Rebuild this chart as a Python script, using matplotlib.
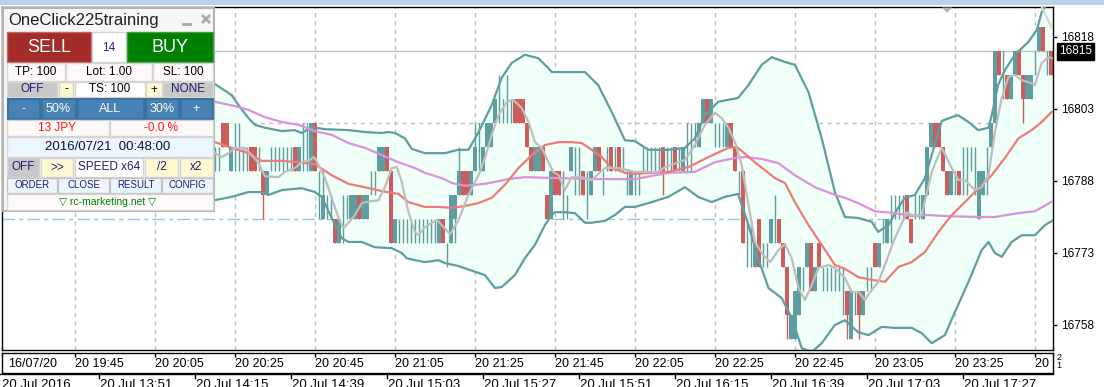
import numpy as np
import matplotlib.pyplot as plt
from matplotlib.patches import Rectangle, Polygon
from matplotlib import transforms

plt.rcParams['font.family'] = ['Liberation Sans', 'DejaVu Sans']

# ---------------- data (1-minute bars, index 0 = 19:27) ----------------
first_bar = 52
opens = [16795, 16795, 16795, 16800, 16800, 16790, 16795, 16795, 16795, 16795,
         16795, 16795, 16790, 16790, 16785, 16790, 16790, 16795, 16790, 16795,
         16790, 16795, 16790, 16795, 16795, 16790, 16800, 16785, 16780, 16785,
         16780, 16780, 16775, 16780, 16780, 16780, 16780, 16785, 16780, 16780,
         16785, 16790, 16790, 16790, 16795, 16790, 16775, 16780, 16775, 16780,
         16775, 16780, 16780, 16775, 16780, 16775, 16780, 16775, 16780, 16775,
         16775, 16780, 16785, 16790, 16790, 16785, 16790, 16795, 16790, 16795,
         16795, 16800, 16805, 16805, 16805, 16805, 16805, 16805, 16805, 16800,
         16795, 16790, 16790, 16795, 16785, 16780, 16790, 16790, 16785, 16785,
         16790, 16790, 16790, 16790, 16785, 16785, 16790, 16795, 16790, 16790,
         16795, 16790, 16795, 16790, 16790, 16785, 16790, 16790, 16790, 16790,
         16790, 16790, 16790, 16795, 16790, 16790, 16795, 16790, 16790, 16795,
         16795, 16795, 16795, 16800, 16805, 16800, 16800, 16800, 16795, 16795,
         16800, 16795, 16790, 16790, 16775, 16775, 16770, 16780, 16775, 16775,
         16775, 16780, 16780, 16775, 16770, 16755, 16755, 16760, 16770, 16770,
         16775, 16765, 16775, 16770, 16765, 16770, 16765, 16770, 16765, 16765,
         16755, 16765, 16765, 16760, 16765, 16770, 16775, 16770, 16775, 16775,
         16780, 16780, 16785, 16780, 16785, 16780, 16780, 16780, 16780, 16785,
         16795, 16800, 16800, 16795, 16790, 16785, 16790, 16790, 16790, 16790,
         16790, 16790, 16780, 16785, 16790, 16795, 16800, 16815, 16810, 16810,
         16805, 16810, 16815, 16810, 16805, 16805, 16810, 16815, 16820, 16815, 16815]
highs = [16795, 16795, 16795, 16800, 16800, 16795, 16800, 16800, 16795, 16795,
         16795, 16795, 16795, 16790, 16790, 16795, 16795, 16795, 16795, 16795,
         16795, 16795, 16795, 16800, 16800, 16800, 16800, 16790, 16790, 16785,
         16785, 16780, 16780, 16785, 16785, 16785, 16785, 16785, 16785, 16785,
         16790, 16790, 16795, 16795, 16795, 16790, 16780, 16780, 16780, 16780,
         16780, 16780, 16780, 16780, 16780, 16780, 16780, 16780, 16780, 16775,
         16785, 16785, 16795, 16790, 16790, 16790, 16800, 16800, 16795, 16800,
         16800, 16805, 16810, 16805, 16810, 16805, 16805, 16805, 16805, 16800,
         16795, 16795, 16795, 16795, 16785, 16790, 16790, 16790, 16790, 16785,
         16795, 16795, 16795, 16790, 16790, 16790, 16795, 16795, 16790, 16795,
         16795, 16795, 16795, 16795, 16790, 16790, 16790, 16790, 16795, 16795,
         16795, 16795, 16795, 16795, 16795, 16795, 16795, 16795, 16795, 16800,
         16800, 16800, 16800, 16805, 16805, 16805, 16800, 16800, 16800, 16800,
         16800, 16795, 16790, 16790, 16780, 16780, 16775, 16780, 16775, 16775,
         16780, 16785, 16780, 16775, 16770, 16760, 16765, 16770, 16770, 16775,
         16775, 16770, 16775, 16770, 16770, 16770, 16770, 16770, 16770, 16765,
         16765, 16765, 16765, 16765, 16770, 16770, 16775, 16775, 16780, 16780,
         16785, 16785, 16785, 16785, 16785, 16780, 16785, 16785, 16785, 16795,
         16800, 16800, 16800, 16795, 16790, 16790, 16790, 16790, 16795, 16795,
         16795, 16795, 16790, 16790, 16795, 16800, 16815, 16815, 16815, 16810,
         16810, 16815, 16815, 16810, 16810, 16810, 16815, 16820, 16820, 16815, 16815]
lows = [16790, 16790, 16790, 16795, 16795, 16790, 16790, 16790, 16790, 16790,
        16790, 16790, 16790, 16780, 16785, 16790, 16790, 16790, 16790, 16790,
        16790, 16790, 16790, 16790, 16790, 16790, 16790, 16780, 16780, 16780,
        16780, 16775, 16775, 16775, 16780, 16780, 16780, 16780, 16780, 16780,
        16785, 16785, 16790, 16790, 16790, 16775, 16775, 16775, 16775, 16775,
        16775, 16775, 16775, 16775, 16775, 16775, 16775, 16775, 16775, 16770,
        16775, 16775, 16785, 16785, 16785, 16785, 16790, 16790, 16790, 16795,
        16795, 16800, 16800, 16800, 16800, 16800, 16800, 16800, 16800, 16795,
        16790, 16790, 16790, 16790, 16780, 16780, 16785, 16785, 16780, 16780,
        16790, 16785, 16785, 16785, 16780, 16785, 16790, 16790, 16785, 16790,
        16790, 16790, 16790, 16790, 16785, 16785, 16785, 16785, 16790, 16790,
        16790, 16790, 16790, 16785, 16790, 16790, 16790, 16790, 16790, 16790,
        16790, 16795, 16795, 16800, 16800, 16800, 16795, 16795, 16795, 16795,
        16795, 16790, 16785, 16775, 16770, 16770, 16770, 16770, 16770, 16770,
        16775, 16775, 16775, 16770, 16755, 16755, 16755, 16760, 16765, 16770,
        16765, 16765, 16770, 16765, 16765, 16765, 16765, 16765, 16760, 16755,
        16755, 16760, 16755, 16760, 16765, 16765, 16770, 16770, 16775, 16775,
        16775, 16780, 16780, 16780, 16780, 16775, 16780, 16780, 16780, 16785,
        16795, 16795, 16795, 16790, 16785, 16785, 16785, 16785, 16785, 16785,
        16790, 16785, 16780, 16785, 16785, 16795, 16800, 16810, 16805, 16805,
        16805, 16810, 16810, 16800, 16805, 16805, 16810, 16815, 16815, 16810, 16810]
closes = [16795, 16795, 16795, 16795, 16795, 16795, 16795, 16795, 16795, 16795,
          16790, 16790, 16790, 16785, 16790, 16790, 16790, 16795, 16790, 16795,
          16790, 16790, 16795, 16795, 16795, 16800, 16790, 16785, 16785, 16785,
          16780, 16775, 16780, 16780, 16780, 16785, 16785, 16780, 16785, 16785,
          16785, 16790, 16795, 16795, 16790, 16775, 16780, 16780, 16775, 16780,
          16775, 16780, 16780, 16775, 16780, 16775, 16780, 16780, 16775, 16775,
          16785, 16785, 16790, 16785, 16785, 16790, 16795, 16795, 16795, 16800,
          16800, 16805, 16805, 16805, 16805, 16805, 16800, 16800, 16800, 16795,
          16790, 16795, 16795, 16790, 16780, 16790, 16785, 16785, 16785, 16785,
          16795, 16790, 16790, 16785, 16785, 16790, 16795, 16790, 16790, 16790,
          16790, 16790, 16790, 16790, 16790, 16790, 16790, 16790, 16790, 16790,
          16790, 16790, 16790, 16790, 16790, 16790, 16790, 16790, 16795, 16795,
          16795, 16795, 16800, 16805, 16800, 16805, 16800, 16800, 16795, 16800,
          16795, 16790, 16790, 16775, 16775, 16775, 16775, 16770, 16775, 16775,
          16780, 16780, 16775, 16770, 16760, 16760, 16765, 16770, 16770, 16775,
          16765, 16770, 16770, 16770, 16765, 16770, 16765, 16770, 16765, 16760,
          16765, 16765, 16760, 16765, 16765, 16770, 16770, 16775, 16775, 16780,
          16780, 16780, 16785, 16780, 16780, 16775, 16780, 16780, 16785, 16795,
          16800, 16795, 16795, 16790, 16785, 16790, 16790, 16785, 16790, 16790,
          16790, 16790, 16790, 16790, 16790, 16800, 16815, 16810, 16810, 16805,
          16810, 16815, 16810, 16805, 16810, 16810, 16810, 16820, 16815, 16815, 16810]

# Bollinger bands and moving averages (bar index, price)
upper_x = [52.0, 53.1, 57.3, 59.0, 61.5, 63.1, 65.6, 69.8, 73.1, 74.8, 76.5, 78.1, 80.6, 86.5,
           90.6, 94.8, 96.5, 98.1, 100.6, 102.3, 105.6, 110.6, 113.9, 116.5, 118.9, 122.3,
           124.8, 127.3, 130.6, 133.9, 136.5, 137.3, 145.6, 148.9, 152.3, 155.6, 158.1, 161.5,
           166.5, 170.6, 173.1, 175.6, 178.9, 183.9, 186.5, 189.8, 192.3, 195.6, 198.1, 201.5,
           204.8, 208.1, 210.6, 213.9, 217.3, 218.9, 221.5, 223.9, 225.6, 228.1, 230.6, 232.3,
           234.8, 237.3, 238.9, 241.5, 243.9, 246.5, 247.3, 248.9, 250.6, 253.1, 256.5, 258.6,
           259.8, 260.6, 262.6]
upper_y = [16809.0, 16808.2, 16805.9, 16803.8, 16801.1, 16799.7, 16799.1, 16798.4, 16798.6,
           16798.0, 16798.8, 16799.1, 16798.8, 16798.6, 16798.2, 16798.0, 16798.2, 16798.0,
           16796.9, 16794.7, 16793.8, 16793.8, 16794.5, 16794.5, 16798.0, 16803.8, 16809.5,
           16812.6, 16814.3, 16813.6, 16811.5, 16810.7, 16810.7, 16808.0, 16802.4, 16796.5,
           16796.3, 16794.5, 16794.5, 16794.9, 16796.9, 16801.7, 16804.5, 16805.3, 16808.0,
           16812.2, 16813.8, 16812.8, 16812.2, 16806.5, 16796.9, 16785.7, 16780.5, 16780.3,
           16779.5, 16777.4, 16778.8, 16782.4, 16784.5, 16785.1, 16788.6, 16793.4, 16800.5,
           16801.3, 16801.7, 16800.3, 16798.6, 16799.1, 16801.7, 16808.0, 16811.1, 16814.3,
           16817.0, 16819.5, 16823.2, 16824.25, 16825.7]
lower_x = [52.0, 53.1, 57.3, 61.5, 64.8, 66.5, 69.8, 74.8, 78.1, 79.8, 82.3, 84.8, 86.5, 89.8,
           93.1, 97.3, 99.8, 101.1, 103.1, 105.6, 109.0, 110.6, 113.9, 118.1, 120.6, 123.1,
           124.8, 128.1, 130.6, 133.1, 135.6, 137.3, 138.1, 140.6, 143.1, 145.6, 147.3, 150.6,
           153.1, 155.6, 158.1, 161.5, 166.5, 170.6, 173.9, 177.3, 180.6, 183.9, 186.5, 188.9,
           191.5, 194.8, 197.3, 199.8, 202.3, 204.8, 208.1, 210.6, 213.9, 216.5, 219.8, 223.1,
           227.3, 229.8, 232.3, 235.6, 238.1, 241.5, 244.8, 246.5, 248.1, 249.8, 252.3, 254.8,
           258.1, 260.6, 262.6]
lower_y = [16784.0, 16784.0, 16784.7, 16785.7, 16785.7, 16785.1, 16786.1, 16786.5, 16785.7,
           16784.7, 16780.3, 16776.1, 16775.3, 16775.3, 16774.2, 16774.0, 16773.0, 16771.9,
           16771.5, 16771.1, 16771.5, 16770.9, 16770.3, 16769.1, 16768.4, 16765.7, 16765.9,
           16768.4, 16771.9, 16774.7, 16778.8, 16780.9, 16781.5, 16781.5, 16781.3, 16779.3,
           16779.3, 16779.7, 16780.9, 16782.6, 16782.6, 16783.4, 16784.7, 16786.7, 16784.7,
           16783.6, 16784.7, 16785.3, 16778.8, 16771.9, 16765.7, 16763.6, 16759.5, 16753.2,
           16752.4, 16754.2, 16758.0, 16759.0, 16756.5, 16755.9, 16757.6, 16757.4, 16757.4,
           16756.3, 16754.2, 16755.9, 16760.7, 16767.0, 16773.6, 16775.3, 16773.0, 16772.2,
           16775.3, 16776.7, 16776.7, 16778.8, 16779.8]
slow_x = [52.0, 53.1, 58.1, 61.5, 65.6, 69.8, 74.0, 78.1, 82.3, 86.5, 90.6, 94.8, 99.0, 103.1,
          105.6, 109.8, 112.3, 115.6, 120.6, 126.5, 130.6, 139.0, 147.3, 158.1, 166.5, 173.1,
          178.1, 183.1, 185.6, 189.8, 194.0, 198.1, 203.1, 208.1, 210.6, 213.9, 218.1, 223.1,
          227.3, 231.5, 235.6, 243.9, 248.1, 253.9, 258.1, 262.6]
slow_y = [16804.8, 16804.5, 16803.6, 16802.8, 16801.3, 16800.3, 16799.7, 16798.4, 16797.6,
          16795.9, 16794.9, 16793.4, 16791.9, 16790.7, 16789.7, 16788.6, 16787.6, 16787.0,
          16787.4, 16788.4, 16788.8, 16788.6, 16788.4, 16788.4, 16789.7, 16789.9, 16791.9,
          16792.8, 16793.0, 16792.6, 16791.7, 16789.2, 16786.7, 16785.1, 16784.5, 16783.4,
          16781.7, 16781.3, 16780.7, 16780.9, 16780.7, 16780.5, 16780.5, 16781.3, 16781.7,
          16783.8]
mid_x = [52.0, 53.1, 57.3, 61.5, 64.8, 69.8, 74.0, 78.1, 82.3, 86.5, 90.6, 94.8, 99.0, 101.5,
         105.6, 109.0, 112.3, 115.6, 119.0, 122.3, 125.6, 129.0, 132.3, 135.6, 139.0, 142.3,
         144.8, 147.3, 149.8, 152.3, 155.6, 158.1, 166.5, 171.5, 176.5, 181.5, 183.6, 188.1,
         193.1, 195.6, 198.1, 201.5, 204.8, 208.1, 210.6, 213.9, 217.3, 220.6, 224.0, 227.3,
         230.6, 234.0, 237.3, 240.6, 244.0, 247.3, 250.6, 254.0, 257.3, 259.8, 262.3]
mid_y = [16796.5, 16796.1, 16794.9, 16793.8, 16792.2, 16792.2, 16791.9, 16791.5, 16789.2,
         16787.4, 16786.7, 16785.9, 16785.3, 16783.6, 16782.6, 16782.6, 16782.4, 16782.8,
         16783.4, 16784.5, 16787.2, 16790.7, 16793.4, 16795.5, 16796.1, 16796.1, 16795.9,
         16794.5, 16793.0, 16790.7, 16789.7, 16789.5, 16789.9, 16790.9, 16793.0, 16794.9,
         16795.1, 16791.9, 16788.6, 16787.6, 16783.6, 16778.8, 16774.7, 16770.5, 16769.7,
         16768.0, 16767.4, 16767.0, 16770.1, 16771.1, 16773.2, 16777.4, 16780.9, 16783.6,
         16786.5, 16789.2, 16792.8, 16796.9, 16798.6, 16800.3, 16802.4]
fast_x = [52.0, 53.1, 54.8, 56.5, 58.1, 60.6, 62.3, 64.0, 65.6, 69.0, 70.6, 73.1, 74.8, 76.5,
          77.9, 79.0, 80.6, 82.3, 84.0, 85.2, 86.5, 88.1, 89.8, 92.3, 94.0, 95.6, 97.3, 98.6,
          99.8, 101.5, 103.1, 104.0, 105.6, 108.6, 111.9, 114.0, 116.5, 119.0, 120.6, 122.3,
          124.0, 126.1, 127.7, 129.8, 131.5, 133.1, 134.8, 136.5, 137.7, 139.0, 140.6, 142.3,
          144.8, 147.3, 150.6, 154.0, 158.1, 164.0, 165.6, 169.0, 170.6, 173.1, 175.6, 178.1,
          179.8, 181.5, 183.1, 184.8, 186.5, 188.1, 189.8, 191.9, 194.0, 195.6, 197.3, 199.0,
          200.6, 202.3, 204.0, 206.5, 208.1, 210.6, 212.3, 214.0, 215.6, 217.3, 219.0, 220.6,
          223.1, 226.1, 227.3, 229.8, 232.3, 234.8, 237.3, 239.0, 240.6, 243.1, 244.8, 246.5,
          248.1, 249.8, 251.5, 253.1, 254.8, 256.5, 258.1, 259.8, 261.5, 262.3]
fast_y = [16793.5, 16793.8, 16793.0, 16793.8, 16794.9, 16794.9, 16793.4, 16791.7, 16789.0,
          16788.8, 16789.9, 16790.7, 16791.9, 16792.2, 16793.0, 16791.3, 16788.6, 16784.5,
          16780.3, 16778.2, 16779.3, 16780.9, 16783.4, 16783.8, 16784.0, 16786.7, 16790.7,
          16790.9, 16787.8, 16781.5, 16777.4, 16776.7, 16778.4, 16779.9, 16776.9, 16779.9,
          16785.1, 16789.2, 16792.8, 16797.6, 16801.7, 16804.5, 16804.9, 16803.2, 16800.3,
          16796.1, 16794.9, 16791.9, 16789.9, 16789.2, 16786.1, 16788.8, 16788.8, 16788.2,
          16790.7, 16790.7, 16789.9, 16789.9, 16790.9, 16791.9, 16792.4, 16795.5, 16799.7,
          16802.2, 16801.1, 16799.1, 16796.1, 16791.3, 16783.0, 16775.3, 16773.0, 16771.1,
          16773.6, 16774.9, 16771.9, 16765.7, 16763.2, 16766.3, 16769.9, 16770.5, 16769.9,
          16767.8, 16764.9, 16764.9, 16763.2, 16765.3, 16767.0, 16770.5, 16776.1, 16781.5,
          16780.9, 16780.9, 16789.9, 16794.9, 16790.7, 16788.2, 16788.2, 16786.1, 16786.7,
          16789.2, 16798.2, 16805.3, 16809.7, 16810.1, 16809.0, 16808.6, 16808.0, 16812.6,
          16813.8, 16813.6]
ghost_x = [259.8, 262.8]
ghost_y = [16824.3, 16819.0]

bid = 16815
order_price = 16780
grid_price = 16800
price_ticks = [16818, 16803, 16788, 16773, 16758]
grid_bars = [18, 38, 58, 78, 98, 118, 138, 158, 178, 198, 218, 238, 258]
strip_labels = ['20 19:45', '20 20:05', '20 20:25', '20 20:45', '20 21:05', '20 21:25',
                '20 21:45', '20 22:05', '20 22:25', '20 22:45', '20 23:05', '20 23:25',
                '20 23:45']
date_bars = [24, 48, 72, 96, 120, 144, 168, 192, 216, 240]
date_labels = ['20 Jul 13:51', '20 Jul 14:15', '20 Jul 14:39', '20 Jul 15:03',
               '20 Jul 15:27', '20 Jul 15:51', '20 Jul 16:15', '20 Jul 16:39',
               '20 Jul 17:03', '20 Jul 17:27']

BULL = '#5F9EA0'
BEAR = '#CD5C5C'

# ---------------- figure ----------------
W, H = 1104, 387
fig = plt.figure(figsize=(W / 100, H / 100), dpi=100)
fig.patch.set_facecolor('white')


def box(x0, y0, x1, y1):
    return [x0 / W, 1 - y1 / H, (x1 - x0) / W, (y1 - y0) / H]


ax = fig.add_axes(box(2, 7, 1053, 350))
ax.set_xlim(-0.125, 262.625)
ax.set_ylim(16752.79, 16824.25)
for s in ax.spines.values():
    s.set_color('black')
    s.set_linewidth(1)
ax.set_xticks([])
ax.yaxis.tick_right()
ax.set_yticks(price_ticks)
ax.tick_params(axis='y', length=3, width=1, pad=3, labelsize=8.5, colors='black')

# grid + order line (under band fill)
for b in grid_bars:
    ax.axvline(b, color='#C0C0C0', lw=1, ls=(0, (3, 3)), zorder=0.5)
ax.axhline(grid_price, color='#C0C0C0', lw=1, ls=(0, (3, 3)), zorder=0.5)
ax.axhline(order_price, color='#87CEEB', lw=1, ls=(0, (9, 3, 3, 3)), zorder=0.6)

# band fill
band = list(zip(upper_x, upper_y)) + list(zip(lower_x[::-1], lower_y[::-1]))
ax.add_patch(Polygon(band, closed=True, facecolor='#F0FFF7', edgecolor='none', zorder=1))

ax.axhline(bid, color='#C0C0C0', lw=1, zorder=1.5)

# candles
o = np.array(opens)
h = np.array(highs)
l = np.array(lows)
c = np.array(closes)
bars = np.arange(first_bar, first_bar + len(o))
cols = np.where(c < o, BEAR, BULL)
ax.vlines(bars, l, h, colors=cols, lw=1, zorder=2)
body = c != o
ax.bar(bars[body], np.abs(c - o)[body], bottom=np.minimum(o, c)[body], width=1.0,
       color=cols[body], lw=0, zorder=2)

# indicator lines
ax.plot(upper_x, upper_y, color=BULL, lw=1.6, zorder=3)
ax.plot(lower_x, lower_y, color=BULL, lw=1.6, zorder=3)
ax.plot(slow_x, slow_y, color='#DD90DD', lw=1.6, zorder=3)
ax.plot(mid_x, mid_y, color='#F07A7A', lw=1.6, zorder=3)
ax.plot(fast_x, fast_y, color='#BEBEBE', lw=1.6, zorder=3)
ax.plot(ghost_x, ghost_y, color='#D8D8D8', lw=1.6, zorder=3)

ax.annotate(f'{bid}', xy=(1, bid), xycoords=('axes fraction', 'data'), xytext=(6, 0),
            textcoords='offset pixels', ha='left', va='center', color='white', fontsize=8.5,
            bbox=dict(boxstyle='square,pad=0.2', fc='black', ec='black'),
            annotation_clip=False)

# time strip
sx = fig.add_axes(box(2, 352.5, 1053, 372.5))
sx.set_xlim(ax.get_xlim())
sx.set_ylim(0, 1)
sx.set_xticks([])
sx.set_yticks([])
for s in sx.spines.values():
    s.set_color('black')
    s.set_linewidth(1)
sx.vlines(grid_bars, 0.8, 1.0, color='black', lw=1)
sx.text(0.006, 0.42, '16/07/20', transform=sx.transAxes, ha='left', va='center', fontsize=9)
for b, lab in zip(grid_bars, strip_labels):
    sx.text(b + 0.15, 0.42, lab, ha='left', va='center', fontsize=9, clip_on=True)

# overlay in pixel coordinates
ov = fig.add_axes([0, 0, 1, 1])
ov.set_xlim(0, W)
ov.set_ylim(H, 0)
ov.axis('off')
ov.set_zorder(10)

ov.add_patch(Rectangle((0, 0), W, 4.5, facecolor='#B9D1EA', edgecolor='none'))
ov.text(1059, 357.5, '2', fontsize=6.5, ha='center', va='center')
ov.text(1059, 366, '1', fontsize=6.5, ha='center', va='center')
ov.add_patch(Polygon([(942, 7.5), (952, 7.5), (947, 13)], closed=True,
                     facecolor='#B4B4B4', edgecolor='none'))

# lower date axis
bt = transforms.blended_transform_factory(ax.transData, ov.transData)
ov.plot([0, 1053], [373.5, 373.5], color='black', lw=1)
ov.vlines(date_bars, 373.5, 378.5, color='black', lw=1, transform=bt)
ov.text(2, 378.5, '20 Jul 2016', ha='left', va='top', fontsize=9.5)
for b, lab in zip(date_bars, date_labels):
    ov.text(b + 0.3, 378.5, lab, ha='left', va='top', fontsize=9.5, transform=bt)


# ---------------- trading panel ----------------
def rect(x0, y0, x1, y1, fc, ec='none', lw=1):
    ov.add_patch(Rectangle((x0, y0), x1 - x0, y1 - y0, facecolor=fc, edgecolor=ec, lw=lw))


def label(x, y, s, color='black', size=8.5, ha='center'):
    ov.text(x, y, s, color=color, fontsize=size, ha=ha, va='center')


NAVY = '#1E1E6E'
GRAY = '#C8C8C8'
YEL = '#FFF8D2'
PALE = '#FFFAFA'
ICE = '#EDF5FF'
EDGE = '#D4D4D4'

rect(3, 7.5, 214, 211, '#F7F7F7', '#B4B4B4', 1.5)
label(8, 20, 'OneClick225training', '#202020', 12, 'left')
ov.plot([183, 190], [24, 24], color='#A8A8A8', lw=2)
ov.plot([203, 209], [16, 22], color='#A8A8A8', lw=2)
ov.plot([203, 209], [22, 16], color='#A8A8A8', lw=2)

rect(6.5, 32, 91, 62, '#A52A2A', '#C86464')
label(49, 47.5, 'SELL', 'white', 13)
rect(92, 32, 126, 62, 'white', EDGE)
label(109, 48, '14', '#2A1A78', 8.5)
rect(127, 32, 213, 62, '#008000', '#40A040')
label(170, 47.5, 'BUY', 'white', 13)

for x0, x1, s in [(7, 65, 'TP: 100'), (66, 152, 'Lot: 1.00'), (153, 213, 'SL: 100')]:
    rect(x0, 63, x1, 81, PALE, EDGE)
    label((x0 + x1) / 2, 72, s)

for x0, x1, s, fc, col in [(7, 57, 'OFF', GRAY, NAVY), (59, 73, '-', YEL, 'black'),
                           (75, 145, 'TS: 100', 'white', 'black'), (146, 162, '+', YEL, 'black'),
                           (163, 213, 'NONE', GRAY, NAVY)]:
    rect(x0, 82, x1, 97, fc, EDGE)
    label((x0 + x1) / 2, 89.5, s, col)

rect(7, 98, 213, 119.5, '#4682B4')
for x0, x1, s in [(7, 40, '-'), (41, 76, '50%'), (77, 144, 'ALL'), (145, 179, '30%'),
                  (180, 213, '+')]:
    rect(x0 + 0.5, 99, x1 - 0.5, 119, '#4682B4', '#3A6F9C', 1.2)
    label((x0 + x1) / 2, 109, s, 'white', 9)

rect(7, 120, 109, 136, PALE, EDGE)
rect(110, 120, 213, 136, PALE, EDGE)
label(57, 128, '13 JPY', '#FF1010')
label(161, 128, '-0.0 %', '#FF1010')

rect(7, 137, 213, 156.5, ICE, EDGE)
label(108, 147, '2016/07/21  00:48:00', '#101040', 9.5)

for x0, x1, s, fc in [(7, 39, 'OFF', GRAY), (41, 73, '>>', YEL), (75, 143, 'SPEED x64', 'white'),
                      (145, 178, '/2', YEL), (180, 213, 'x2', YEL)]:
    rect(x0, 158, x1, 177, fc, EDGE)
    label((x0 + x1) / 2, 167.5, s, NAVY, 8.5)

for x0, x1, s in [(7, 57, 'ORDER'), (58, 109, 'CLOSE'), (110, 161, 'RESULT'), (162, 213, 'CONFIG')]:
    rect(x0, 178, x1, 193, ICE, '#C4C4C4')
    label((x0 + x1) / 2, 185.5, s, NAVY, 7)

rect(7, 194, 213, 209.5, PALE, EDGE)
label(108, 202, '\u25bd rc-marketing.net \u25bd', '#008000', 7.5)

fig.savefig('out.png', dpi=100, facecolor='white')
